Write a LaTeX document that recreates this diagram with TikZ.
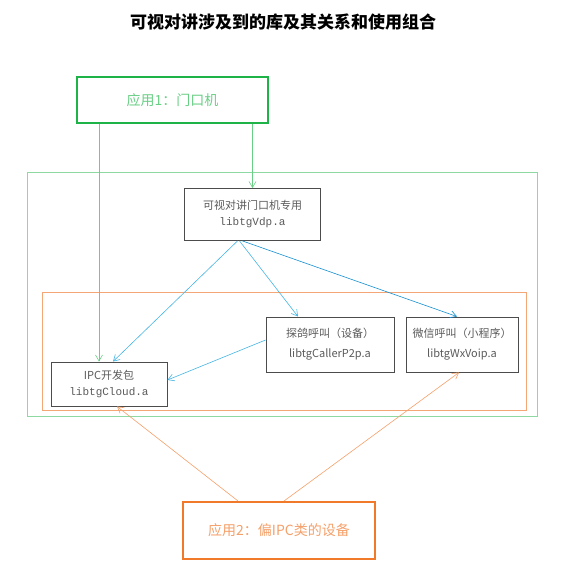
\documentclass[tikz,border=0pt]{standalone}
\usepackage{fontspec}
\setmainfont{Noto Sans CJK SC}
\newfontfamily\monofnt{Liberation Mono}
\usetikzlibrary{arrows.meta}

\definecolor{appgreen}{HTML}{1DB347}
\definecolor{linegreen}{HTML}{6ACF86}
\definecolor{framegreen}{HTML}{8ED9A2}
\definecolor{framered}{HTML}{F5A676}
\definecolor{apporange}{HTML}{F07A2A}
\definecolor{lineorange}{HTML}{F5A06A}
\definecolor{lineblue}{HTML}{45B5E5}
\definecolor{darkblue}{HTML}{1590D0}
\definecolor{txtgray}{HTML}{5A5A5A}

\begin{document}
\begin{tikzpicture}[x=1pt, y=-1pt, every node/.style={font=\fontsize{11}{16}\selectfont},
				l/.style={draw=black!70, line width=0.9pt, text=txtgray, align=center, inner sep=0pt},
				frame/.style={draw, inner sep=0pt},
				app/.style={draw, line width=2pt, inner sep=0pt, font=\fontsize{14}{16}\selectfont},
				arr/.style={-{Straight Barb[length=6pt, width=7pt]}, line width=0.6pt}]
				\useasboundingbox (0,0) rectangle (565,572);
				\node[font=\fontsize{17}{20}\selectfont\bfseries] (title) at (283,22) {可视对讲涉及到的库及其关系和使用组合};
				\node[frame, draw=framegreen, line width=1pt, minimum width=510pt, minimum height=244pt] (grp) at (282,294) {};
				\node[frame, draw=framered, line width=1pt, minimum width=484pt, minimum height=118pt] (lib) at (284,351) {};
				\node[app, draw=appgreen, text=linegreen, minimum width=191pt, minimum height=46pt] (app1) at (172.5,100) {应用1：门口机};
				\node[app, draw=apporange, text=lineorange, minimum width=192pt, minimum height=57pt] (app2) at (279,530.5) {应用2：偏IPC类的设备};
				\node[l, minimum width=136pt, minimum height=52pt] (vdp) at (252.5,214.5) {可视对讲门口机专用\\{\monofnt libtgVdp.a}};
				\node[l, minimum width=116pt, minimum height=44pt] (ipc) at (109,384) {IPC开发包\\{\monofnt libtgCloud.a}};
				\node[l, minimum width=128pt, minimum height=55pt, font=\fontsize{11}{20}\selectfont] (p2p) at (330,344.5) {探鸽呼叫（设备）\\libtgCallerP2p.a};
				\node[l, minimum width=112pt, minimum height=55pt, font=\fontsize{11}{20}\selectfont] (wx) at (462,344.5) {微信呼叫（小程序）\\libtgWxVoip.a};
				% app1
				\draw[arr, linegreen] ([xshift=-73.5pt]app1.south) -- ([xshift=-10pt]ipc.north);
				\draw[arr, linegreen] ([xshift=80pt]app1.south) -- (vdp.north);
				% vdp
				\draw[arr, lineblue] ([xshift=-15pt]vdp.south) -- ([xshift=4pt]ipc.north);
				\draw[arr, lineblue] ([xshift=-13pt]vdp.south) -- ([xshift=-32pt]p2p.north);
				\draw[arr, darkblue] ([xshift=-10pt]vdp.south) -- ([xshift=-5pt]wx.north);
				\draw[arr, lineblue] ([yshift=4.5pt]p2p.west) -- ([yshift=4pt]ipc.east);
				% app2
				\draw[arr, lineorange] ([xshift=-41pt]app2.north) -- ([xshift=8pt]ipc.south);
				\draw[arr, lineorange] ([xshift=5pt]app2.north) -- ([xshift=-3pt]wx.south);
			\end{tikzpicture}
\end{document}
